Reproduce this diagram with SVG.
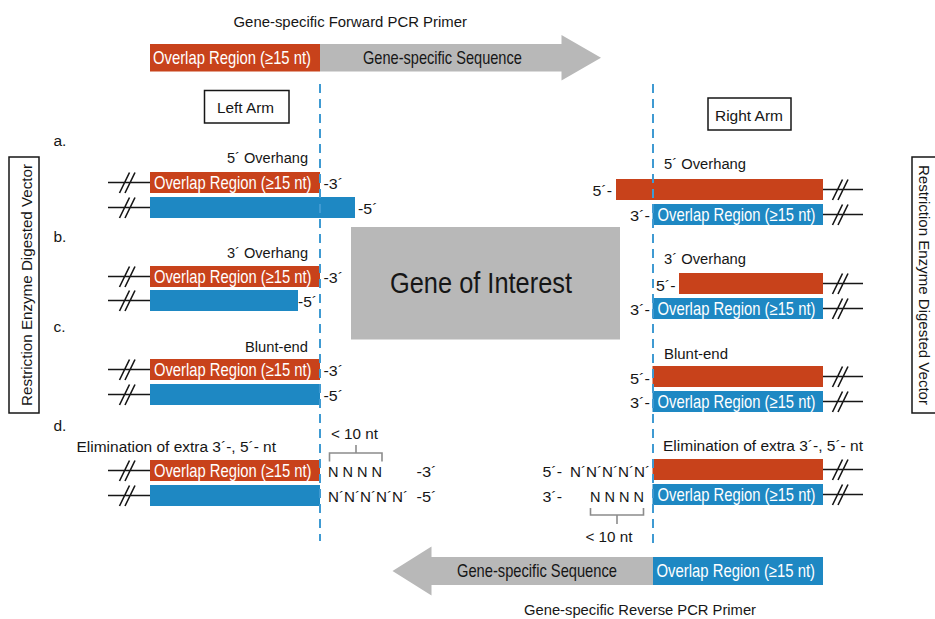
<svg xmlns="http://www.w3.org/2000/svg" width="935" height="619" viewBox="0 0 935 619">
<style>
.r{fill:#C8421B}
.b{fill:#1E88C3}
.g{fill:#B8B8B8}
text{font-family:"Liberation Sans",Arial,sans-serif;fill:#161616}
.l{font-size:15.5px}
.bt{font-size:17.5px}
.w{fill:#ffffff}
.box{fill:#ffffff;stroke:#161616;stroke-width:1.5}
.dash{stroke:#3F9AD2;stroke-width:2;stroke-dasharray:9,6;fill:none}
.ln{stroke:#161616;stroke-width:1.6;fill:none}
.br{stroke:#8C8C8C;stroke-width:1.6;fill:none}
</style>
<defs>
<g id="cutL"><path class="ln" d="M108,0H150M119.5,10.5L129.5,-10M125,10.5L135,-10"/></g>
<g id="cutR"><path class="ln" d="M823,0H863M832.5,10.5L842.5,-10M838,10.5L848,-10"/></g>
</defs>

<g id="forward-primer">
<text class="l" x="233.5" y="26.5" textLength="233.5" lengthAdjust="spacingAndGlyphs">Gene-specific Forward PCR Primer</text>
<rect class="r" x="150" y="44" width="170" height="27.5"/>
<path class="g" d="M320,44H561.5V35L601,57.75L561.5,80.5V71.5H320Z"/>
<text class="bt w" transform="translate(153,63.5) scale(0.845,1)" textLength="187" lengthAdjust="spacingAndGlyphs">Overlap Region (≥15 nt)</text>
<text class="bt" transform="translate(363,63.5) scale(0.845,1)" textLength="188" lengthAdjust="spacingAndGlyphs">Gene-specific Sequence</text>
</g>

<g id="left-arm">
<rect class="box" x="204.5" y="90.5" width="84.5" height="32.5"/>
<text class="l" x="217" y="113" textLength="57" lengthAdjust="spacingAndGlyphs">Left Arm</text>
</g>
<g id="right-arm">
<rect class="box" x="708" y="98" width="83" height="32"/>
<text class="l" x="715" y="120.5" textLength="68" lengthAdjust="spacingAndGlyphs">Right Arm</text>
</g>

<g id="vector-left">
<rect class="box" x="9" y="157" width="30" height="256"/>
<text class="l" transform="translate(31.5,285) rotate(-90)" x="-121" y="0" textLength="242" lengthAdjust="spacingAndGlyphs">Restriction Enzyme Digested Vector</text>
</g>
<g id="vector-right">
<rect class="box" x="912" y="157" width="30" height="256"/>
<text class="l" transform="translate(918.5,285) rotate(90)" x="-120" y="0" textLength="240" lengthAdjust="spacingAndGlyphs">Restriction Enzyme Digested Vector</text>
</g>

<g id="gene-of-interest">
<rect class="g" x="351" y="227" width="269" height="112.5"/>
<text x="390" y="292.5" font-size="30" textLength="182" lengthAdjust="spacingAndGlyphs">Gene of Interest</text>
</g>

<g id="labels">
<text class="l" x="53.5" y="146">a.</text>
<text class="l" x="53.5" y="241.5">b.</text>
<text class="l" x="53.5" y="331.5">c.</text>
<text class="l" x="53.5" y="430.5">d.</text>
</g>

<g id="left-a">
<text class="l" x="227" y="162.5" textLength="81" lengthAdjust="spacingAndGlyphs">5´ Overhang</text>
<use href="#cutL" y="182.5"/><use href="#cutL" y="207.5"/>
<rect class="r" x="150" y="172" width="170" height="21"/>
<rect class="b" x="150" y="197" width="205" height="21"/>
<text class="bt w" transform="translate(154,189) scale(0.845,1)" textLength="186.4" lengthAdjust="spacingAndGlyphs">Overlap Region (≥15 nt)</text>
<text class="l" x="323.5" y="189" textLength="19.5" lengthAdjust="spacingAndGlyphs">-3´</text>
<text class="l" x="358" y="213.5" textLength="19.5" lengthAdjust="spacingAndGlyphs">-5´</text>
</g>
<g id="left-b">
<text class="l" x="227" y="257.5" textLength="81" lengthAdjust="spacingAndGlyphs">3´ Overhang</text>
<use href="#cutL" y="276.5"/><use href="#cutL" y="300.5"/>
<rect class="r" x="150" y="266" width="170" height="21"/>
<rect class="b" x="150" y="290" width="148" height="21"/>
<text class="bt w" transform="translate(154,283) scale(0.845,1)" textLength="186.4" lengthAdjust="spacingAndGlyphs">Overlap Region (≥15 nt)</text>
<text class="l" x="323.5" y="283" textLength="19.5" lengthAdjust="spacingAndGlyphs">-3´</text>
<text class="l" x="298" y="307" textLength="19" lengthAdjust="spacingAndGlyphs">-5´</text>
</g>
<g id="left-c">
<text class="l" x="245" y="352" textLength="63" lengthAdjust="spacingAndGlyphs">Blunt-end</text>
<use href="#cutL" y="369.5"/><use href="#cutL" y="394.5"/>
<rect class="r" x="150" y="359" width="170" height="21"/>
<rect class="b" x="150" y="384" width="170" height="21"/>
<text class="bt w" transform="translate(154,376) scale(0.845,1)" textLength="186.4" lengthAdjust="spacingAndGlyphs">Overlap Region (≥15 nt)</text>
<text class="l" x="323.5" y="376" textLength="19.5" lengthAdjust="spacingAndGlyphs">-3´</text>
<text class="l" x="323.5" y="400.5" textLength="19.5" lengthAdjust="spacingAndGlyphs">-5´</text>
</g>
<g id="left-d">
<text class="l" x="76.5" y="452" textLength="199.5" lengthAdjust="spacingAndGlyphs">Elimination of extra 3´-, 5´- nt</text>
<text class="l" x="331" y="438.5" textLength="47" lengthAdjust="spacingAndGlyphs">&lt; 10 nt</text>
<use href="#cutL" y="470.5"/><use href="#cutL" y="495.5"/>
<rect class="r" x="150" y="460" width="170" height="21"/>
<rect class="b" x="150" y="485" width="170" height="21"/>
<text class="bt w" transform="translate(154,477) scale(0.845,1)" textLength="186.4" lengthAdjust="spacingAndGlyphs">Overlap Region (≥15 nt)</text>
<text class="l" x="328" y="477" textLength="54" lengthAdjust="spacingAndGlyphs">N N N N</text>
<text class="l" x="416.5" y="477" textLength="20" lengthAdjust="spacingAndGlyphs">-3´</text>
<text class="l" x="328" y="502" textLength="80" lengthAdjust="spacingAndGlyphs">N´N´N´N´N´</text>
<text class="l" x="416.5" y="502" textLength="20" lengthAdjust="spacingAndGlyphs">-5´</text>
</g>

<g id="right-a">
<text class="l" x="664" y="168.5" textLength="82" lengthAdjust="spacingAndGlyphs">5´ Overhang</text>
<use href="#cutR" y="189.5"/><use href="#cutR" y="214.5"/>
<rect class="r" x="616" y="179" width="207" height="21"/>
<rect class="b" x="652.5" y="204" width="170.5" height="21"/>
<text class="bt w" transform="translate(657.5,221) scale(0.845,1)" textLength="187" lengthAdjust="spacingAndGlyphs">Overlap Region (≥15 nt)</text>
<text class="l" x="592.5" y="196" textLength="19.5" lengthAdjust="spacingAndGlyphs">5´-</text>
<text class="l" x="630" y="221" textLength="20" lengthAdjust="spacingAndGlyphs">3´-</text>
</g>
<g id="right-b">
<text class="l" x="664" y="263.5" textLength="82" lengthAdjust="spacingAndGlyphs">3´ Overhang</text>
<use href="#cutR" y="283.5"/><use href="#cutR" y="308.5"/>
<rect class="r" x="679" y="273" width="144" height="21"/>
<rect class="b" x="652.5" y="298" width="170.5" height="21"/>
<text class="bt w" transform="translate(657.5,315) scale(0.845,1)" textLength="187" lengthAdjust="spacingAndGlyphs">Overlap Region (≥15 nt)</text>
<text class="l" x="656" y="291" textLength="19.5" lengthAdjust="spacingAndGlyphs">5´-</text>
<text class="l" x="630" y="315" textLength="20" lengthAdjust="spacingAndGlyphs">3´-</text>
</g>
<g id="right-c">
<text class="l" x="664" y="359" textLength="64" lengthAdjust="spacingAndGlyphs">Blunt-end</text>
<use href="#cutR" y="376.5"/><use href="#cutR" y="401.5"/>
<rect class="r" x="652.5" y="366" width="170.5" height="21"/>
<rect class="b" x="652.5" y="391" width="170.5" height="21"/>
<text class="bt w" transform="translate(657.5,408) scale(0.845,1)" textLength="187" lengthAdjust="spacingAndGlyphs">Overlap Region (≥15 nt)</text>
<text class="l" x="630" y="384" textLength="20" lengthAdjust="spacingAndGlyphs">5´-</text>
<text class="l" x="630" y="408" textLength="20" lengthAdjust="spacingAndGlyphs">3´-</text>
</g>
<g id="right-d">
<text class="l" x="663" y="451" textLength="200" lengthAdjust="spacingAndGlyphs">Elimination of extra 3´-, 5´- nt</text>
<use href="#cutR" y="469.5"/><use href="#cutR" y="494.5"/>
<rect class="r" x="652.5" y="459" width="170.5" height="21"/>
<rect class="b" x="652.5" y="484" width="170.5" height="21"/>
<text class="bt w" transform="translate(657.5,501) scale(0.845,1)" textLength="187" lengthAdjust="spacingAndGlyphs">Overlap Region (≥15 nt)</text>
<text class="l" x="542.5" y="477" textLength="19.5" lengthAdjust="spacingAndGlyphs">5´-</text>
<text class="l" x="570" y="477" textLength="80" lengthAdjust="spacingAndGlyphs">N´N´N´N´N´</text>
<text class="l" x="542.5" y="502" textLength="19.5" lengthAdjust="spacingAndGlyphs">3´-</text>
<text class="l" x="590" y="502" textLength="54" lengthAdjust="spacingAndGlyphs">N N N N</text>
<text class="l" x="585.5" y="542" textLength="47" lengthAdjust="spacingAndGlyphs">&lt; 10 nt</text>
</g>

<g id="reverse-primer">
<rect class="b" x="653" y="557" width="170" height="28"/>
<path class="g" d="M653,557H431.5V546.5L392.5,571L431.5,595.5V585H653Z"/>
<text class="bt" transform="translate(457,576.5) scale(0.845,1)" textLength="189.3" lengthAdjust="spacingAndGlyphs">Gene-specific Sequence</text>
<text class="bt w" transform="translate(656.5,576.5) scale(0.845,1)" textLength="187.6" lengthAdjust="spacingAndGlyphs">Overlap Region (≥15 nt)</text>
<text class="l" x="524" y="614.5" textLength="232" lengthAdjust="spacingAndGlyphs">Gene-specific Reverse PCR Primer</text>
</g>

<g id="connectors">
<path class="dash" d="M320,84V541"/>
<path class="dash" d="M653,84V546"/>
<path class="br" d="M329.5,461.5V453H382V461.5M356,453V445"/>
<path class="br" d="M590.5,508V515H643.5V508M617,515V524"/>
</g>
</svg>
